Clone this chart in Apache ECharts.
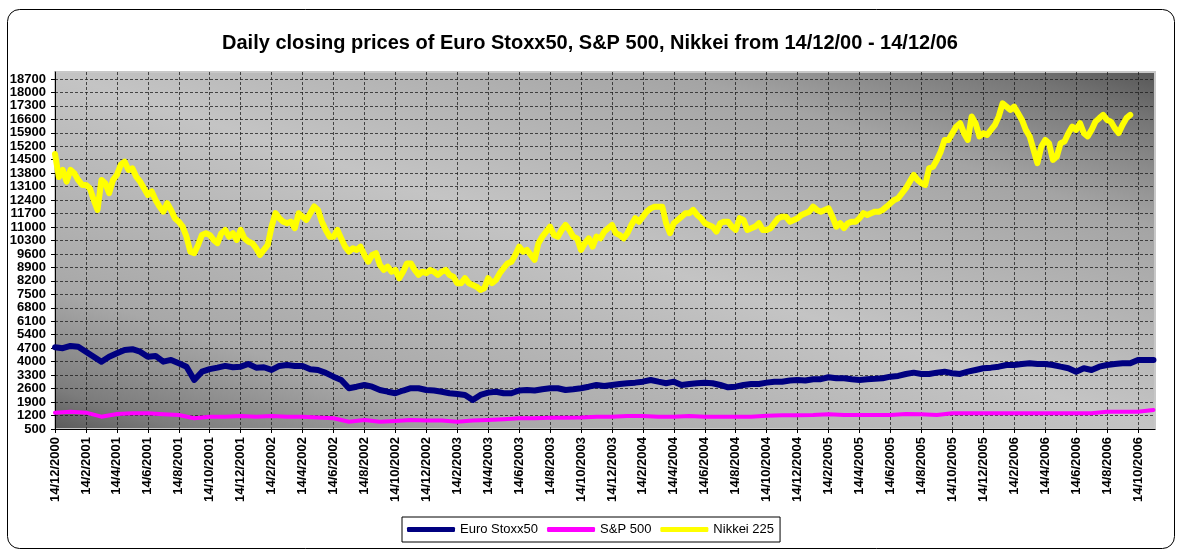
<!DOCTYPE html>
<html>
<head>
<meta charset="utf-8">
<script src="https://cdn.jsdelivr.net/npm/echarts@6/dist/echarts.min.js"></script>
<style>
  html, body { margin: 0; padding: 0; background: #fff; }
  #chart { width: 1180px; height: 553px; }
</style>
</head>
<body>
<div id="chart"></div>
<script>
// Tick labels of the x axis (one every 2 months, starting 14/12/2000)
const xTickLabels = [
  "14/12/2000","14/2/2001","14/4/2001","14/6/2001","14/8/2001","14/10/2001",
  "14/12/2001","14/2/2002","14/4/2002","14/6/2002","14/8/2002","14/10/2002",
  "14/12/2002","14/2/2003","14/4/2003","14/6/2003","14/8/2003","14/10/2003",
  "14/12/2003","14/2/2004","14/4/2004","14/6/2004","14/8/2004","14/10/2004",
  "14/12/2004","14/2/2005","14/4/2005","14/6/2005","14/8/2005","14/10/2005",
  "14/12/2005","14/2/2006","14/4/2006","14/6/2006","14/8/2006","14/10/2006"
];
const seriesNames = ["Euro Stoxx50", "S&P 500", "Nikkei 225"];

// Nikkei 225, one value every quarter month from 14/12/2000
const NIKKEI_STEP = 0.25;
const nikkeiValues = [
  14800,13600,13970,13360, 13970,13800,13450,13190, 13190,13020,12410,11890,
  13450,13280,12760,13450, 13710,14230,14400,13970, 14050,13620,13360,13020,
  12670,12850,12410,12070, 11800,12240,11890,11460, 11280,11020,10500,9720,
  9640,10070,10590,10680, 10590,10330,10160,10680, 10850,10500,10680,10330,
  10850,10410,10240,10160, 9900,9550,9810,10070, 11020,11720,11460,11280,
  11200,11280,10940,11720, 11540,11370,11720,12070, 11890,11280,10850,10500,
  10500,10850,10410,9980, 9720,9900,9810,9980, 9550,9200,9550,9640,
  9030,8770,8940,8680, 8770,8340,8680,9110, 9110,8770,8510,8680,
  8600,8770,8680,8510, 8680,8770,8510,8420, 8080,8080,8340,8080,
  7990,7900,7730,7820, 8340,8080,8250,8600, 8860,9110,9200,9550,
  9980,9720,9810,9550, 9290,10160,10500,10760, 11020,10590,10500,10850,
  11110,10850,10500,10410, 9810,10160,10410,9980, 10500,10410,10760,10940,
  11110,10680,10590,10410, 10680,11110,11460,11280, 11540,11800,11970,12060,
  12060,12060,11200,10680, 11200,11370,11540,11720, 11720,11890,11630,11460,
  11200,11110,11020,10760, 11200,11280,11280,11020, 10850,11460,11370,10850,
  10940,11020,11200,10850, 10850,10940,11200,11460, 11540,11540,11280,11370,
  11460,11630,11720,11800, 12060,11890,11800,11890, 11970,11540,11020,11200,
  10940,11200,11280,11280, 11460,11720,11630,11720, 11800,11800,11890,12060,
  12240,12410,12500,12760, 13020,13360,13710,13450, 13280,13190,14060,14140,
  14490,14920,15530,15530, 15880,16220,16400,15880, 15530,16750,16400,15710,
  15880,15790,16050,16310, 16750,17430,17260,17090, 17260,16920,16570,16050,
  15710,15010,14320,15180, 15530,15360,14490,14660, 15360,15450,15880,16220,
  16050,16400,15880,15710, 16050,16480,16660,16830, 16570,16480,16140,15880,
  16310,16660,16830
];

// Euro Stoxx50, one value every half month from 14/12/2000
const EURO_STEP = 0.5;
const euroValues = [
  4750,4700, 4820,4780, 4520,4260, 4000,4260, 4440,4610, 4650,4520,
  4260,4300, 4000,4090, 3920,3740, 3050,3480, 3610,3690, 3780,3710,
  3740,3880, 3690,3710, 3570,3780, 3830,3780, 3780,3610, 3570,3420,
  3220,3050, 2620,2700, 2790,2700, 2530,2440, 2360,2500, 2620,2620,
  2530,2500, 2440,2360, 2320,2270, 2010,2270, 2390,2440, 2360,2360,
  2500,2530, 2500,2570, 2620,2620, 2530,2570, 2620,2700, 2790,2740,
  2790,2840, 2880,2910, 2960,3050, 2960,2880, 2960,2790, 2840,2880,
  2910,2880, 2790,2670, 2700,2790, 2840,2840, 2910,2960, 2960,3020,
  3050,3020, 3090,3090, 3190,3140, 3140,3090, 3050,3090, 3110,3140,
  3220,3260, 3360,3430, 3360,3360, 3430,3480, 3400,3360, 3480,3570,
  3660,3690, 3740,3830, 3830,3880, 3920,3880, 3880,3830, 3740,3660,
  3480,3660, 3570,3740, 3830,3880, 3920,3920, 4090,4090, 4090
];

// S&P 500, one value every month from 14/12/2000
const SP_STEP = 1;
const spValues = [
  1350,1400,1350,1140,1280,1320,1320,1270,1230,1060,
  1140,1140,1180,1140,1180,1140,1140,1100,1060,880,
  970,880,920,970,940,940,880,940,970,1010,
  1060,1060,1090,1090,1100,1140,1140,1180,1180,1140,
  1140,1180,1140,1140,1140,1140,1190,1210,1210,1230,
  1270,1230,1230,1230,1230,1280,1270,1230,1320,1320,
  1320,1320,1320,1320,1320,1320,1320,1320,1400,1400,
  1400,1490
];

const toPairs = (vals, step) => vals.map((v, i) => [i * step, v]);

const chart = echarts.init(document.getElementById('chart'), null, { renderer: 'canvas' });
const FONT = "'Liberation Sans', Arial, sans-serif";
const gridLine = { show: true, showMaxLine: false, lineStyle: { color: '#1a1a1a', opacity: 0.75, width: 1, type: [3, 2] } };

chart.setOption({
  animation: false,
  backgroundColor: '#ffffff',
  title: {
    text: 'Daily closing prices of Euro Stoxx50, S&P 500, Nikkei from 14/12/00 - 14/12/06',
    left: 'center',
    top: 28,
    textStyle: { fontFamily: FONT, fontSize: 20, fontWeight: 'bold', color: '#000' }
  },
  graphic: [{
    type: 'rect',
    silent: true,
    z: -10,
    shape: { x: 7.5, y: 9.5, width: 1167, height: 539, r: 12 },
    style: { fill: 'none', stroke: '#000', lineWidth: 1 }
  }],
  legend: {
    data: seriesNames,
    left: 402,
    top: 517,
    orient: 'horizontal',
    icon: 'roundRect',
    itemWidth: 48,
    itemHeight: 5,
    itemGap: 9,
    padding: [6, 6, 6, 5],
    borderColor: '#000',
    borderWidth: 1,
    backgroundColor: '#fff',
    textStyle: { fontFamily: FONT, fontSize: 13, color: '#000' }
  },
  grid: {
    left: 55, right: 25, top: 72, bottom: 124,
    show: true,
    borderColor: '#c8c8c8',
    borderWidth: 2,
    backgroundColor: {
      type: 'linear', x: 0.4047, y: 1.405, x2: 0.5953, y2: -0.405,
      colorStops: [
        { offset: 0, color: '#585858' },
        { offset: 0.06, color: '#7c7c7c' },
        { offset: 0.2, color: '#a8a8a8' },
        { offset: 0.5, color: '#c4c4c4' },
        { offset: 0.78, color: '#a4a4a4' },
        { offset: 0.93, color: '#747474' },
        { offset: 1, color: '#555555' }
      ]
    }
  },
  xAxis: {
    type: 'value',
    min: 0,
    max: 71.1,
    interval: 2,
    axisLine: { show: true, onZero: false, lineStyle: { color: '#000', width: 1 } },
    axisTick: { show: true, length: 4, lineStyle: { color: '#000' } },
    axisLabel: {
      rotate: 90,
      margin: 8,
      showMaxLabel: false,
      fontFamily: FONT, fontSize: 13, fontWeight: 'bold', color: '#000',
      formatter: v => { const k = Math.round(v / 2); return (Math.abs(v - k * 2) < 1e-6 && xTickLabels[k]) ? xTickLabels[k] : ''; }
    },
    splitLine: gridLine
  },
  yAxis: {
    type: 'value',
    min: 500,
    max: 19060,
    interval: 700,
    axisLine: { show: true, onZero: false, lineStyle: { color: '#000', width: 1 } },
    axisTick: { show: true, length: 4, lineStyle: { color: '#000' } },
    axisLabel: {
      margin: 9,
      showMaxLabel: false,
      fontFamily: FONT, fontSize: 13, fontWeight: 'bold', color: '#000',
      formatter: v => ((v - 500) % 700 === 0 ? String(v) : '')
    },
    splitLine: gridLine
  },
  series: [
    {
      name: seriesNames[0], type: 'line', data: toPairs(euroValues, EURO_STEP),
      showSymbol: false, symbol: 'none', smooth: false,
      itemStyle: { color: '#000080' },
      lineStyle: { color: '#000080', width: 6, cap: 'round', join: 'round' }, z: 3
    },
    {
      name: seriesNames[1], type: 'line', data: toPairs(spValues, SP_STEP),
      showSymbol: false, symbol: 'none',
      itemStyle: { color: '#ff00ff' },
      lineStyle: { color: '#ff00ff', width: 4, cap: 'round', join: 'round' }, z: 3
    },
    {
      name: seriesNames[2], type: 'line', data: toPairs(nikkeiValues, NIKKEI_STEP),
      showSymbol: false, symbol: 'none',
      itemStyle: { color: '#ffff00' },
      lineStyle: { color: '#ffff00', width: 6, cap: 'round', join: 'round' }, z: 3
    }
  ]
});
</script>
</body>
</html>
